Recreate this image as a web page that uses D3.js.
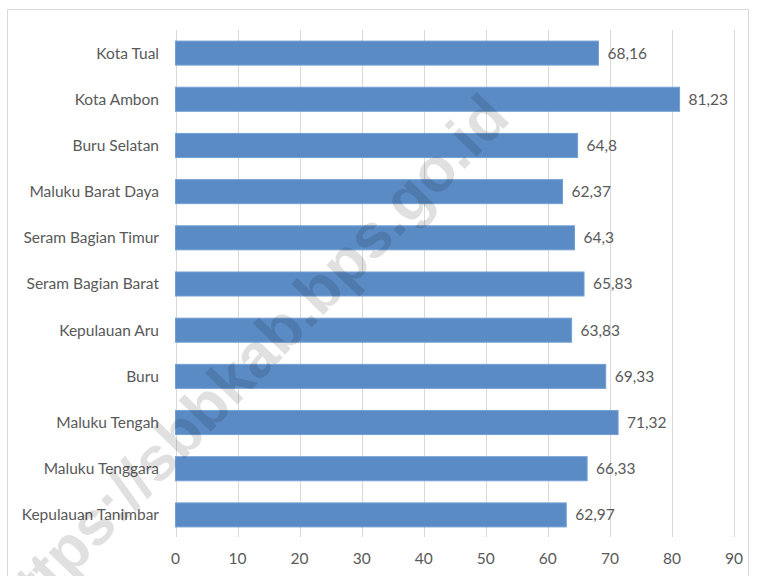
<!DOCTYPE html>
<html>
<head>
<meta charset="utf-8">
<script src="https://cdn.jsdelivr.net/npm/d3@7"></script>
<style>
  html, body { margin: 0; padding: 0; background: #ffffff; }
  svg { display: block; }
</style>
</head>
<body>
<svg id="chart" width="757" height="576"></svg>
<script>
const categories = ["Kota Tual", "Kota Ambon", "Buru Selatan", "Maluku Barat Daya", "Seram Bagian Timur",
  "Seram Bagian Barat", "Kepulauan Aru", "Buru", "Maluku Tengah", "Maluku Tenggara", "Kepulauan Tanimbar"];
const values = [68.16, 81.23, 64.8, 62.37, 64.3, 65.83, 63.83, 69.33, 71.32, 66.33, 62.97];
const xTicks = [0, 10, 20, 30, 40, 50, 60, 70, 80, 90];
const watermark = "https://sbbkab.bps.go.id";

const svg = d3.select("#chart");
const labelFont = "Lato, 'Open Sans', sans-serif";
const fontSize = 15.5;
const textColor = "#595959";

// chart border
svg.append("rect").attr("x", 7.5).attr("y", 9.5).attr("width", 741).attr("height", 580)
  .attr("fill", "#ffffff").attr("stroke", "#d9d9d9").attr("stroke-width", 1);

const x = d3.scaleLinear().domain([0, 90]).range([175.5, 734]);
const y = d3.scaleBand().domain(categories).range([30, 538]).paddingInner(0.48).paddingOuter(0.24);

// gridlines
svg.append("g").selectAll("line").data(xTicks).join("line")
  .attr("x1", d => Math.round(x(d)) + 0.5).attr("x2", d => Math.round(x(d)) + 0.5)
  .attr("y1", 30).attr("y2", 537)
  .attr("stroke", "#d9d9d9").attr("stroke-width", 1);

// bars
svg.append("g").selectAll("rect").data(values).join("rect")
  .attr("x", x(0))
  .attr("y", (d, i) => y(categories[i]))
  .attr("width", d => x(d) - x(0))
  .attr("height", y.bandwidth())
  .attr("fill", "#5b8bc5").attr("stroke", "#739fd3").attr("stroke-width", 1);

// value labels
svg.append("g").selectAll("text").data(values).join("text")
  .attr("x", d => x(d) + 9)
  .attr("y", (d, i) => y(categories[i]) + y.bandwidth() / 2)
  .attr("dy", "0.35em")
  .attr("font-family", labelFont).attr("font-size", fontSize).attr("fill", textColor)
  .text(d => String(d).replace(".", ","));

// category labels
svg.append("g").selectAll("text").data(categories).join("text")
  .attr("x", 159)
  .attr("y", d => y(d) + y.bandwidth() / 2)
  .attr("dy", "0.35em")
  .attr("text-anchor", "end")
  .attr("font-family", labelFont).attr("font-size", fontSize).attr("fill", textColor)
  .text(d => d);

// x tick labels
svg.append("g").selectAll("text").data(xTicks).join("text")
  .attr("x", d => x(d))
  .attr("y", 559)
  .attr("dy", "0.35em")
  .attr("text-anchor", "middle")
  .attr("font-family", labelFont).attr("font-size", fontSize).attr("fill", textColor)
  .text(d => d);

// watermark
svg.append("text")
  .attr("transform", "translate(512,120) rotate(-46)")
  .attr("text-anchor", "end")
  .attr("font-family", "'Liberation Sans', Arial, sans-serif")
  .attr("font-weight", "bold")
  .attr("font-size", 62)
  .attr("fill", "rgba(0,0,0,0.12)")
  .text(watermark);
</script>
</body>
</html>
